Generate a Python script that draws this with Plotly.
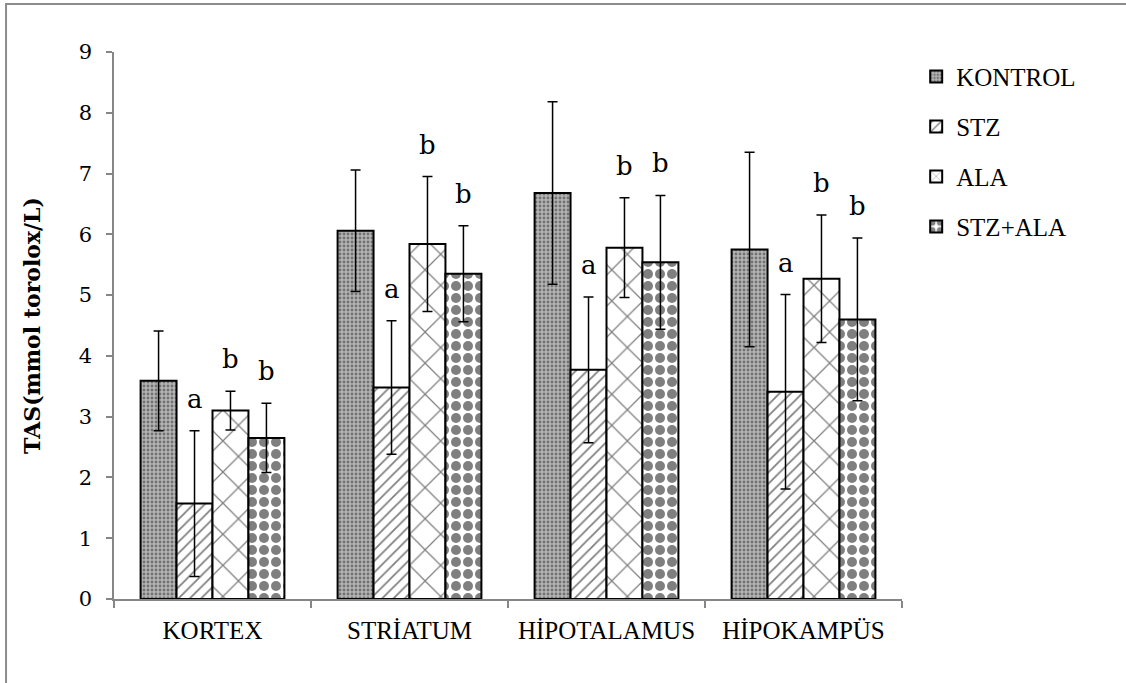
import plotly.graph_objects as go

# ---- data ----
categories = ["KORTEX", "STRİATUM", "HİPOTALAMUS", "HİPOKAMPÜS"]
series_names = ["KONTROL", "STZ", "ALA", "STZ+ALA"]
kontrol = [3.59, 6.06, 6.68, 5.75]
kontrol_err = [0.82, 1.00, 1.50, 1.60]
stz = [1.57, 3.48, 3.77, 3.41]
stz_err = [1.20, 1.10, 1.20, 1.60]
ala = [3.10, 5.84, 5.78, 5.27]
ala_err = [0.32, 1.11, 0.82, 1.05]
stz_ala = [2.65, 5.35, 5.54, 4.60]
stz_ala_err = [0.57, 0.79, 1.10, 1.34]
sig_letters = ["", "a", "b", "b"]  # per series, same in every region
y_ticks = [0, 1, 2, 3, 4, 5, 6, 7, 8, 9]

values = [kontrol, stz, ala, stz_ala]
errors = [kontrol_err, stz_err, ala_err, stz_ala_err]

# ---- styles ----
patterns = [
    dict(shape=".", fgcolor="#303030", bgcolor="#b4b4b4", size=4, solidity=0.4),
    dict(shape="/", fgcolor="#000000", bgcolor="#ffffff", size=8, solidity=0.22),
    dict(shape="x", fgcolor="#000000", bgcolor="#ffffff", size=22, solidity=0.11),
    dict(shape=".", fgcolor="#000000", bgcolor="#ffffff", size=12, solidity=0.55),
]
BARGAP = 0.27
AXIS_COLOR = "#868686"
SERIF_C = "DejaVu Serif"
SERIF_T = '"Liberation Serif", "Times New Roman", Times, serif'

fig = go.Figure()
for name, vals, errs, pat in zip(series_names, values, errors, patterns):
    fig.add_trace(go.Bar(
        x=categories, y=vals, name=name, legendgroup=name,
        marker=dict(color="#ffffff", pattern=pat, line=dict(color="#000000", width=2)),
        error_y=dict(type="data", array=errs, visible=True, color="#000000",
                     thickness=1.5, width=5),
    ))

# significance letters above error bars
n = len(series_names)
bw = (1 - BARGAP) / n
annotations = []
for j, (letter, vals, errs) in enumerate(zip(sig_letters, values, errors)):
    if not letter:
        continue
    for i, (v, e) in enumerate(zip(vals, errs)):
        annotations.append(dict(
            x=i + (j - (n - 1) / 2) * bw, y=v + e, xref="x", yref="y",
            text=letter, showarrow=False, yanchor="middle", yshift=32,
            font=dict(family=SERIF_C, size=26, color="#000000"),
        ))

fig.update_layout(
    width=1126, height=683,
    margin=dict(l=114, r=224, t=52, b=84),
    paper_bgcolor="#ffffff", plot_bgcolor="#ffffff",
    barmode="group", bargap=BARGAP, bargroupgap=0,
    annotations=annotations,
    showlegend=True,
    legend=dict(
        x=1.018, y=0.997, xanchor="left", yanchor="top",
        font=dict(family=SERIF_T, size=25, color="#000000"),
        traceorder="grouped", tracegroupgap=14.5,
        itemwidth=30, bgcolor="rgba(0,0,0,0)",
    ),
    shapes=[dict(
        type="rect", xref="paper", yref="paper",
        x0=-0.137, x1=1.5, y0=-0.3, y1=1.0878,
        line=dict(color="#8c8c8c", width=2), fillcolor="rgba(0,0,0,0)", layer="below",
    )],
)

fig.update_yaxes(
    range=[0, 9], tickvals=y_ticks, showgrid=False, zeroline=False,
    showline=True, linecolor=AXIS_COLOR, linewidth=1.5,
    ticks="outside", ticklen=6, tickcolor=AXIS_COLOR, tickwidth=1.5,
    ticklabelstandoff=10,
    tickfont=dict(family=SERIF_C, size=21, color="#000000"),
    title=dict(text="<b>TAS(mmol torolox/L)</b>", standoff=32,
               font=dict(family=SERIF_C, size=22, color="#000000")),
)
fig.update_xaxes(
    showgrid=False, zeroline=False,
    showline=True, linecolor=AXIS_COLOR, linewidth=1.5,
    ticks="outside", ticklen=7, tickcolor=AXIS_COLOR, tickwidth=1.5,
    tickson="boundaries", ticklabelstandoff=8,
    tickfont=dict(family=SERIF_T, size=25, color="#000000"),
)

fig.write_html("out.html")
